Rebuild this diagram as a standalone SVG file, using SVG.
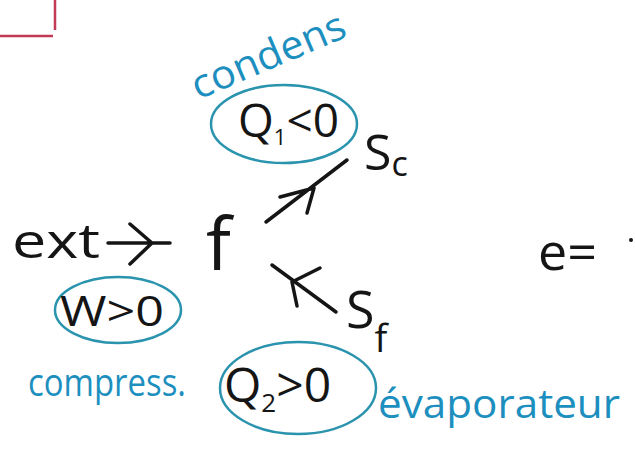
<svg xmlns="http://www.w3.org/2000/svg" width="635" height="458" viewBox="0 0 635 458">
<defs>
<style>
.ink{fill:none;stroke:#151515;stroke-width:3.5;stroke-linecap:round;stroke-linejoin:round}
.blueline{fill:none;stroke:#2a93ad;stroke-width:2.5;stroke-linecap:round}
.red{fill:none;stroke:#c23a55;stroke-width:2.5}
.t{font-family:"Open Sans","Liberation Sans",sans-serif;fill:#151515}
.b{font-family:"Open Sans","Liberation Sans",sans-serif;fill:#1d8fbf}
</style>
</defs>
<rect width="635" height="458" fill="#ffffff"/>
<g id="frame"><path class="red" d="M0 36 H53 M55 0 V30"/></g>
<g id="connectors">
<path class="ink" d="M108 243 H170 M130 224 L152 243 L130 264"/>
<path class="ink" d="M266 222 L347 160 M280 197 L314 188 L307 213"/>
<path class="ink" d="M336 312 L272 265 M292 282 L320 268 M292 282 L297 306"/>
</g>
<g id="condens"><text class="b" x="0" y="0" font-size="40" textLength="164" lengthAdjust="spacingAndGlyphs" transform="translate(198,100) rotate(-23)">condens</text></g>
<g id="Q1">
<ellipse class="blueline" cx="284" cy="124" rx="73" ry="39"/>
<text class="t" x="238" y="137" font-size="46">Q<tspan font-size="22" dy="8">1</tspan><tspan dy="-8">&lt;0</tspan></text>
</g>
<g id="Sc"><text class="t" x="364" y="170" font-size="50">S<tspan font-size="34" dy="6">c</tspan></text></g>
<g id="ext"><text class="t" x="12" y="258" font-size="48" textLength="88" lengthAdjust="spacingAndGlyphs">ext</text></g>
<g id="f"><text class="t" x="206" y="270" font-size="74">f</text></g>
<g id="Sf"><text class="t" x="346" y="328" font-size="52">S<tspan font-size="38" dy="24">f</tspan></text></g>
<g id="W">
<ellipse class="blueline" cx="118" cy="310" rx="63" ry="33"/>
<text class="t" x="60" y="326" font-size="42" textLength="104" lengthAdjust="spacingAndGlyphs">W&gt;0</text>
</g>
<g id="Q2">
<ellipse class="blueline" cx="298" cy="388" rx="78" ry="46" stroke-width="1.6"/>
<text class="t" x="224" y="402" font-size="48">Q<tspan font-size="26" dy="10">2</tspan><tspan dy="-10">&gt;0</tspan></text>
</g>
<g id="compress"><text class="b" x="28" y="396" font-size="38" textLength="158" lengthAdjust="spacingAndGlyphs">compress.</text></g>
<g id="evaporateur"><text class="b" x="378" y="418" font-size="41" textLength="242" lengthAdjust="spacingAndGlyphs">évaporateur</text></g>
<g id="e"><text class="t" x="538" y="270" font-size="52">e=</text><circle cx="631" cy="240" r="2" fill="#151515"/></g>
</svg>
